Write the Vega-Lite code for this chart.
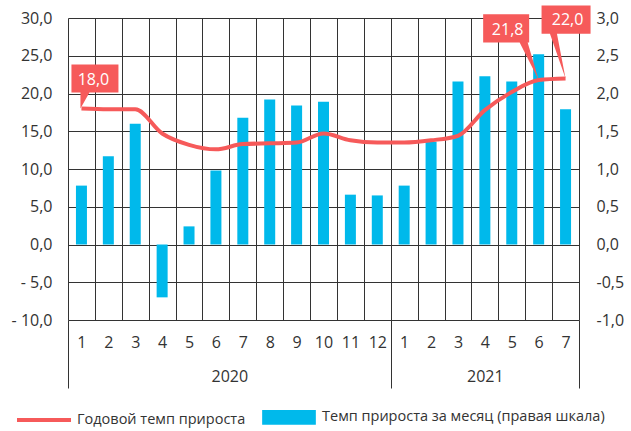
{
  "$schema": "https://vega.github.io/schema/vega-lite/v6.json",
  "width": 511,
  "height": 302,
  "autosize": {"type": "none"},
  "padding": {"left": 68, "top": 18, "right": 52, "bottom": 111},
  "background": "white",
  "config": {
    "locale": {"number": {"decimal": ",", "thousands": " ", "grouping": [3], "currency": ["", ""], "minus": "-"}},
    "view": {"stroke": null},
    "axis": {"labelFont": "Open Sans", "labelFontSize": 16, "labelColor": "#333333", "titleFont": "Open Sans", "labelFlush": false},
    "legend": {"labelFont": "Open Sans"},
    "text": {"font": "Open Sans"}
  },
  "data": {"values": [
    {"idx": 0, "annual": 18.0, "monthly": 0.78},
    {"idx": 1, "annual": 17.9, "monthly": 1.17},
    {"idx": 2, "annual": 17.9, "monthly": 1.60},
    {"idx": 3, "annual": 14.7, "monthly": -0.70},
    {"idx": 4, "annual": 13.2, "monthly": 0.24},
    {"idx": 5, "annual": 12.6, "monthly": 0.98},
    {"idx": 6, "annual": 13.3, "monthly": 1.68},
    {"idx": 7, "annual": 13.4, "monthly": 1.92},
    {"idx": 8, "annual": 13.5, "monthly": 1.84},
    {"idx": 9, "annual": 14.7, "monthly": 1.89},
    {"idx": 10, "annual": 13.8, "monthly": 0.66},
    {"idx": 11, "annual": 13.5, "monthly": 0.65},
    {"idx": 12, "annual": 13.5, "monthly": 0.78},
    {"idx": 13, "annual": 13.8, "monthly": 1.36},
    {"idx": 14, "annual": 14.4, "monthly": 2.16},
    {"idx": 15, "annual": 17.8, "monthly": 2.23},
    {"idx": 16, "annual": 20.2, "monthly": 2.16},
    {"idx": 17, "annual": 21.8, "monthly": 2.52},
    {"idx": 18, "annual": 22.0, "monthly": 1.79}
  ]},
  "resolve": {"scale": {"y": "independent"}, "axis": {"x": "independent", "y": "independent"}},
  "layer": [
    {
      "mark": {"type": "bar", "width": 11},
      "encoding": {
        "x": {"field": "idx", "type": "quantitative",
          "scale": {"domain": [-0.5, 18.5], "nice": false, "zero": false, "padding": 0},
          "axis": {"orient": "bottom", "title": null, "values": [-0.5, 0.5, 1.5, 2.5, 3.5, 4.5, 5.5, 6.5, 7.5, 8.5, 9.5, 10.5, 11.5, 12.5, 13.5, 14.5, 15.5, 16.5, 17.5, 18.5],
            "grid": true, "gridColor": "#333333", "gridOpacity": 1, "gridWidth": 1,
            "labels": false, "domain": false, "ticks": true, "tickSize": 68, "tickWidth": 1,
            "tickColor": {"condition": {"test": "datum.value == -0.5 || datum.value == 11.5 || datum.value == 18.5", "value": "#333333"}, "value": "transparent"}}},
        "y": {"field": "monthly", "type": "quantitative",
          "scale": {"domain": [-1, 3], "nice": false},
          "axis": {"orient": "right", "title": null, "values": [-1, -0.5, 0, 0.5, 1, 1.5, 2, 2.5, 3], "format": ".1f",
            "grid": false, "domain": false, "ticks": false, "labelPadding": 17}},
        "color": {"datum": "Темп прироста за месяц (правая шкала)", "type": "nominal",
          "scale": {"domain": ["Годовой темп прироста", "Темп прироста за месяц (правая шкала)"], "range": ["#f65a5a", "#00b9eb"]},
          "legend": {"orient": "none", "legendX": -53, "legendY": 370, "direction": "horizontal", "title": null,
            "symbolSize": 2916, "labelFontSize": 14.5, "labelColor": "#333333", "columnPadding": 10, "labelOffset": 4, "labelLimit": 0,
            "encode": {"symbols": {"update": {
              "shape": {"signal": "datum.value === 'Годовой темп прироста' ? 'M-1,0H1' : 'M-0.92,-0.2H0.92V0.2H-0.92Z'"},
              "fill": {"signal": "datum.value === 'Годовой темп прироста' ? 'transparent' : '#00b9eb'"},
              "stroke": {"signal": "datum.value === 'Годовой темп прироста' ? '#f65a5a' : 'transparent'"},
              "strokeWidth": {"value": 4},
              "opacity": {"value": 1}}}}}}
      }
    },
    {
      "mark": {"type": "line", "strokeWidth": 4, "interpolate": "monotone"},
      "encoding": {
        "x": {"field": "idx", "type": "quantitative",
          "scale": {"domain": [-0.5, 18.5], "nice": false, "zero": false, "padding": 0},
          "axis": {"orient": "bottom", "title": null, "values": [0, 1, 2, 3, 4, 5, 6, 7, 8, 9, 10, 11, 12, 13, 14, 15, 16, 17, 18],
            "labelExpr": "'' + (datum.value < 12 ? datum.value + 1 : datum.value - 11)",
            "grid": false, "domain": false, "ticks": false, "labelPadding": 14, "labelDx": -4}},
        "y": {"field": "annual", "type": "quantitative",
          "scale": {"domain": [-10, 30], "nice": false, "zero": false},
          "axis": {"orient": "left", "title": null, "values": [-10, -5, 0, 5, 10, 15, 20, 25, 30],
            "labelExpr": "datum.value < 0 ? '- ' + format(-datum.value, '.1f') : format(datum.value, '.1f')",
            "grid": true, "gridColor": "#333333", "gridOpacity": 1, "gridWidth": 1,
            "domain": false, "ticks": false, "labelPadding": 16}},
        "color": {"datum": "Годовой темп прироста", "type": "nominal",
          "scale": {"domain": ["Годовой темп прироста", "Темп прироста за месяц (правая шкала)"], "range": ["#f65a5a", "#00b9eb"]},
          "legend": {"orient": "none", "legendX": -53, "legendY": 370, "direction": "horizontal", "title": null,
            "symbolSize": 2916, "labelFontSize": 14.5, "labelColor": "#333333", "columnPadding": 10, "labelOffset": 4, "labelLimit": 0,
            "encode": {"symbols": {"update": {
              "shape": {"signal": "datum.value === 'Годовой темп прироста' ? 'M-1,0H1' : 'M-0.92,-0.2H0.92V0.2H-0.92Z'"},
              "fill": {"signal": "datum.value === 'Годовой темп прироста' ? 'transparent' : '#00b9eb'"},
              "stroke": {"signal": "datum.value === 'Годовой темп прироста' ? '#f65a5a' : 'transparent'"},
              "strokeWidth": {"value": 4},
              "opacity": {"value": 1}}}}}}
      }
    },
    {
      "mark": {"type": "point", "opacity": 0},
      "encoding": {
        "x": {"field": "idx", "type": "quantitative",
          "scale": {"domain": [-0.5, 18.5], "nice": false, "zero": false, "padding": 0},
          "axis": {"orient": "bottom", "title": null, "values": [5.5, 15],
            "labelExpr": "datum.value < 10 ? '2020' : '2021'",
            "grid": false, "domain": false, "ticks": false, "labelPadding": 48}},
        "y": {"field": "annual", "type": "quantitative", "scale": {"domain": [-10, 30], "nice": false, "zero": false}, "axis": null}
      }
    },
    {
      "transform": [{"filter": "datum.idx == 0"}],
      "mark": {"type": "point", "shape": "M-10,-44H37V-16H8L-1,0L-1,-16H-10Z", "size": 4, "filled": true, "color": "#f65a5a", "opacity": 1, "strokeWidth": 0},
      "encoding": {
        "x": {"field": "idx", "type": "quantitative", "scale": {"domain": [-0.5, 18.5], "nice": false, "zero": false, "padding": 0}, "axis": null},
        "y": {"field": "annual", "type": "quantitative", "scale": {"domain": [-10, 30], "nice": false, "zero": false}, "axis": null}
      }
    },
    {
      "transform": [{"filter": "datum.idx == 17"}],
      "mark": {"type": "point", "shape": "M-55.5,-65.7H-9.5V-37.3H-11L0,0L-19,-37.3H-55.5Z", "size": 4, "filled": true, "color": "#f65a5a", "opacity": 1, "strokeWidth": 0},
      "encoding": {
        "x": {"field": "idx", "type": "quantitative", "scale": {"domain": [-0.5, 18.5], "nice": false, "zero": false, "padding": 0}, "axis": null},
        "y": {"field": "annual", "type": "quantitative", "scale": {"domain": [-10, 30], "nice": false, "zero": false}, "axis": null}
      }
    },
    {
      "transform": [{"filter": "datum.idx == 18"}],
      "mark": {"type": "point", "shape": "M-24,-73H25V-44.7H-8.6L0,0L-15.6,-44.7H-24Z", "size": 4, "filled": true, "color": "#f65a5a", "opacity": 1, "strokeWidth": 0},
      "encoding": {
        "x": {"field": "idx", "type": "quantitative", "scale": {"domain": [-0.5, 18.5], "nice": false, "zero": false, "padding": 0}, "axis": null},
        "y": {"field": "annual", "type": "quantitative", "scale": {"domain": [-10, 30], "nice": false, "zero": false}, "axis": null}
      }
    },
    {
      "transform": [{"filter": "datum.idx == 0"}],
      "mark": {"type": "text", "fontSize": 16, "color": "white", "align": "center", "baseline": "middle", "dx": 12, "dy": -29},
      "encoding": {
        "x": {"field": "idx", "type": "quantitative", "scale": {"domain": [-0.5, 18.5], "nice": false, "zero": false, "padding": 0}, "axis": null},
        "y": {"field": "annual", "type": "quantitative", "scale": {"domain": [-10, 30], "nice": false, "zero": false}, "axis": null},
        "text": {"field": "annual", "type": "quantitative", "format": ".1f"}
      }
    },
    {
      "transform": [{"filter": "datum.idx == 17"}],
      "mark": {"type": "text", "fontSize": 16, "color": "white", "align": "center", "baseline": "middle", "dx": -31, "dy": -50},
      "encoding": {
        "x": {"field": "idx", "type": "quantitative", "scale": {"domain": [-0.5, 18.5], "nice": false, "zero": false, "padding": 0}, "axis": null},
        "y": {"field": "annual", "type": "quantitative", "scale": {"domain": [-10, 30], "nice": false, "zero": false}, "axis": null},
        "text": {"field": "annual", "type": "quantitative", "format": ".1f"}
      }
    },
    {
      "transform": [{"filter": "datum.idx == 18"}],
      "mark": {"type": "text", "fontSize": 16, "color": "white", "align": "center", "baseline": "middle", "dx": 2, "dy": -58},
      "encoding": {
        "x": {"field": "idx", "type": "quantitative", "scale": {"domain": [-0.5, 18.5], "nice": false, "zero": false, "padding": 0}, "axis": null},
        "y": {"field": "annual", "type": "quantitative", "scale": {"domain": [-10, 30], "nice": false, "zero": false}, "axis": null},
        "text": {"field": "annual", "type": "quantitative", "format": ".1f"}
      }
    }
  ]
}
